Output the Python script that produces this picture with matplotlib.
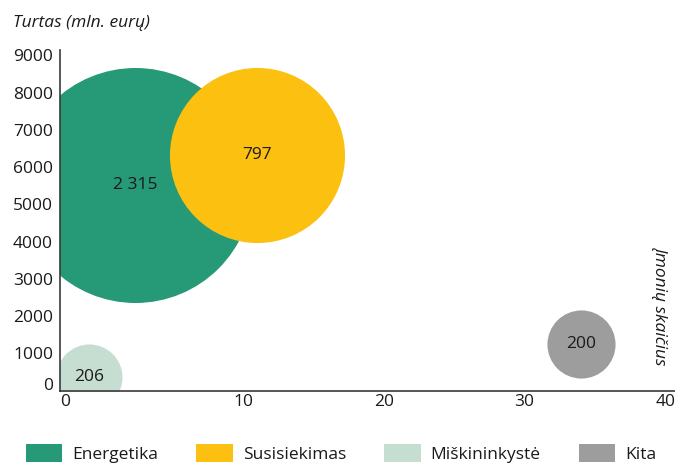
import matplotlib
matplotlib.use("Agg")
import matplotlib.pyplot as plt
from matplotlib.patches import Patch
from matplotlib.transforms import ScaledTranslation

plt.rcParams['font.family'] = ['Open Sans', 'DejaVu Sans']

# sectors and values
sectors = ["Energetika", "Susisiekimas", "Miškininkystė", "Kita"]
firms = [2.33, 11.03, -0.95, 34.0]          # Įmonių skaičius (x)
assets = [5517, 6322, 349, 1235]            # Turtas, mln. eurų (y)
bubble_labels = ["2 315", "797", "206", "200"]
bubble_area = [100, 55.5, 7.9, 8.4]         # relative bubble area
colors = ["#269977", "#FBC010", "#C6DDD1", "#9D9D9D"]

xticks = [0, 10, 20, 30, 40]
yticks = [0, 1000, 2000, 3000, 4000, 5000, 6000, 7000, 8000, 9000]

fs = 12.5
txt = "#1a1a1a"

fig = plt.figure(figsize=(6.75, 4.63), dpi=100)
ax = fig.add_axes([60/675, (463-390.5)/463, 615/675, 340.5/463])

for i in range(len(sectors)):
    ax.scatter(firms[i], assets[i], s=bubble_area[i]*286.3, color=colors[i],
               linewidths=0, zorder=2)
    ax.text(firms[i], assets[i], bubble_labels[i], ha='center', va='center',
            fontsize=fs, color=txt, zorder=3)

ax.set_xlim(-3.0, 40.7)
ax.set_ylim(0, 9141)
ax.set_xticks(xticks)
ax.set_yticks(yticks)
ax.tick_params(length=0, labelsize=fs, colors=txt)
ax.tick_params(axis='x', pad=2.5)
ax.tick_params(axis='y', pad=5)

for s in ['top', 'right']:
    ax.spines[s].set_visible(False)
for s in ['left', 'bottom']:
    ax.spines[s].set_color('#3a3a3a')
    ax.spines[s].set_linewidth(1.2)

# first labels sit against the axis corner
xt = ax.xaxis.get_major_ticks()
xt[0].label1.set_transform(xt[0].label1.get_transform()
                           + ScaledTranslation(-0.37, 0, fig.dpi_scale_trans))
yt = ax.yaxis.get_major_ticks()
yt[0].label1.set_verticalalignment('baseline')

fig.text(13/675, 1-27/463, "Turtas (mln. eurų)", style='italic',
         fontsize=fs, color=txt, ha='left', va='baseline')
fig.text(660/675, 1-306/463, "Įmonių skaičius", style='italic', rotation=270,
         fontsize=fs, color=txt, ha='center', va='center')

handles = [Patch(facecolor=c, label=s) for s, c in zip(sectors, colors)]
fig.legend(handles=handles, loc='upper left', bbox_to_anchor=(26/675, 1-444/463),
           ncol=4, frameon=False, fontsize=fs, handlelength=2.1, handleheight=1.26,
           handletextpad=0.57, columnspacing=2.2, borderpad=0, borderaxespad=0,
           labelcolor=txt)

fig.savefig("out.png", dpi=100)
